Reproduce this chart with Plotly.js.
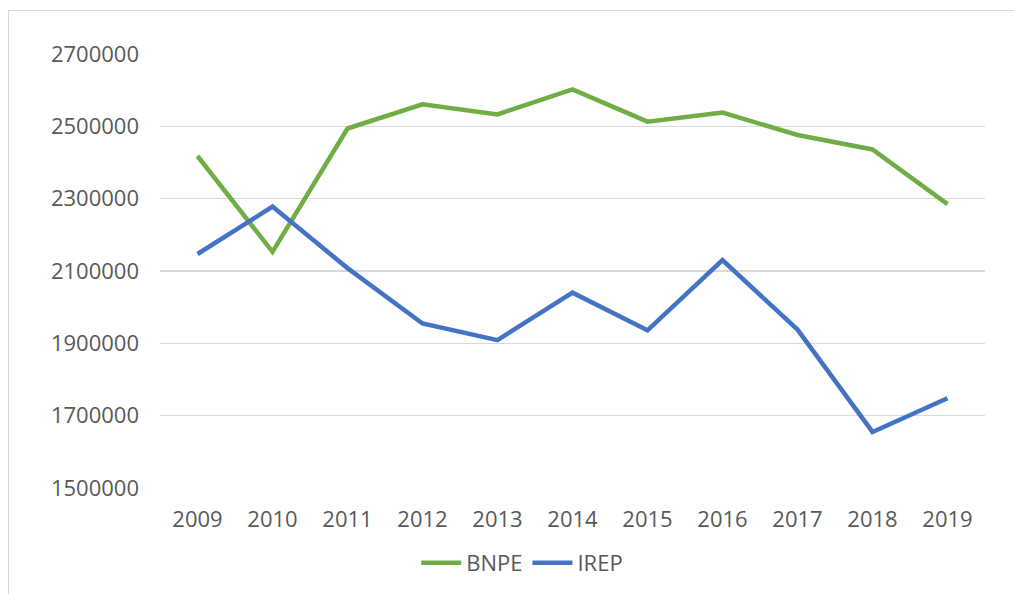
<!DOCTYPE html>
<html>
<head>
<meta charset="utf-8">
<script src="https://cdn.plot.ly/plotly-3.0.1.min.js"></script>
<style>
  html, body { margin: 0; padding: 0; background: #fff; }
  #wrap { position: relative; width: 1014px; height: 594px; overflow: hidden; }
  #chart { width: 1014px; height: 594px; }
  #frame { position: absolute; left: 8px; top: 10px; width: 1100px; height: 700px;
           border: 1.5px solid #d9d9d9; pointer-events: none; box-sizing: border-box; }
</style>
</head>
<body>
<div id="wrap">
  <div id="chart"></div>
  <div id="frame"></div>
</div>
<script>
const years = ['2009','2010','2011','2012','2013','2014','2015','2016','2017','2018','2019'];
const bnpe = [2418000, 2153000, 2494000, 2561000, 2533000, 2602000, 2513000, 2538000, 2476000, 2436000, 2285000];
const irep = [2147000, 2278000, 2108000, 1955000, 1909000, 2040000, 1936000, 2130000, 1938000, 1655000, 1748000];
const yTicks = [1500000, 1700000, 1900000, 2100000, 2300000, 2500000, 2700000];

const font = { family: 'Open Sans, Liberation Sans, sans-serif', size: 22, color: '#595959' };

const traces = [
  { x: years, y: bnpe, name: 'BNPE', type: 'scatter', mode: 'lines',
    line: { color: '#70AD47', width: 4.5 } },
  { x: years, y: irep, name: 'IREP', type: 'scatter', mode: 'lines',
    line: { color: '#4472C4', width: 4.5 } }
];

const layout = {
  width: 1014, height: 594,
  margin: { l: 160, r: 29, t: 54, b: 106, autoexpand: false },
  paper_bgcolor: '#ffffff', plot_bgcolor: '#ffffff',
  font: font,
  showlegend: true,
  legend: { orientation: 'h', xref: 'container', yref: 'container',
            x: 0.515, xanchor: 'center', y: 1 - 563 / 594, yanchor: 'middle',
            font: font, itemwidth: 40, traceorder: 'normal' },
  xaxis: { type: 'category', range: [-0.5, 10.5], showgrid: false, zeroline: false,
           showline: false, ticks: '', tickfont: font, ticklabelstandoff: 16, fixedrange: true,
           automargin: false },
  yaxis: { range: [1500000, 2700000], tickvals: yTicks, ticktext: yTicks.map(String),
           showgrid: true, gridcolor: '#d9d9d9', gridwidth: 1.5, zeroline: false,
           showline: false, ticks: '', tickfont: font, ticklabelstandoff: 20, fixedrange: true,
           automargin: false }
};

Plotly.newPlot('chart', traces, layout, { displayModeBar: false, staticPlot: true });
</script>
</body>
</html>
